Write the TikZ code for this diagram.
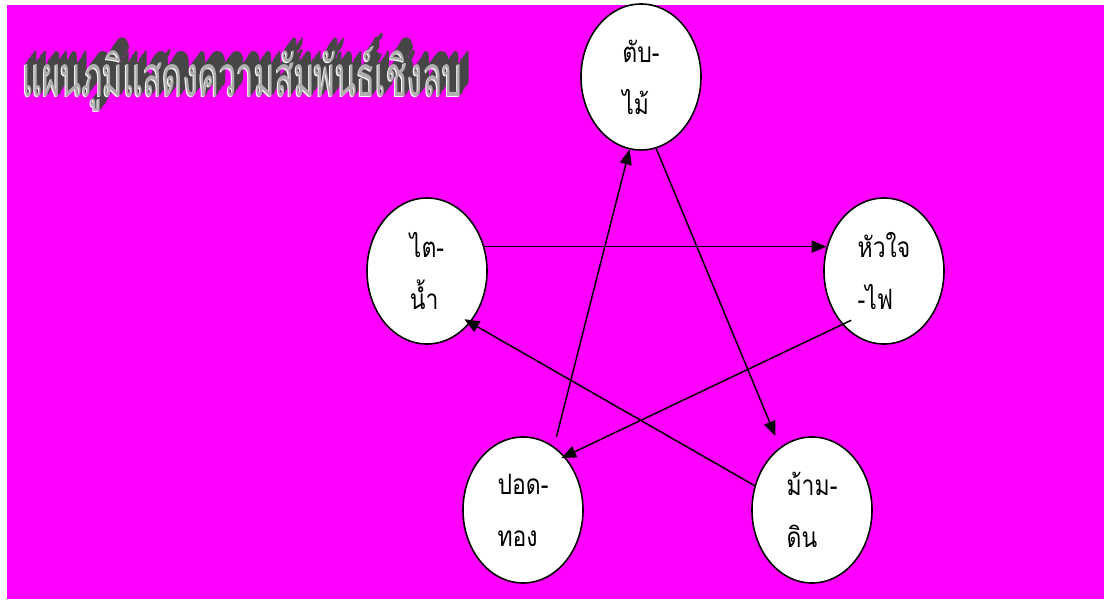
\documentclass[tikz,border=0pt]{standalone}
\usepackage{fontspec}
\newfontfamily\thaifont[Script=Thai, FakeStretch=0.82]{Loma}
\usetikzlibrary{shapes.geometric,arrows.meta}
\definecolor{mag}{RGB}{255,0,255}
\definecolor{extr}{RGB}{70,70,70}
\definecolor{face}{RGB}{175,175,175}
\newcommand\titletext{แผนภูมิแสดงความสัมพันธ์เชิงลบ}
\newcommand\titlebox[1]{\resizebox{440pt}{50pt}{\thaifont\color{#1}\titletext}}
\begin{document}
\begin{tikzpicture}[x=1pt,y=-1pt,
  organ/.style={ellipse, draw, line width=1.6pt, fill=white,
    minimum width=120pt, minimum height=146pt, inner sep=0pt, align=left,
    font=\thaifont\fontsize{28}{52}\selectfont},
  link/.style={line width=1.5pt, -{Triangle[length=15pt,width=12pt]}},
  ttl/.style={anchor=base west, inner sep=0pt}]
\useasboundingbox (0,0) rectangle (1104,601);
\fill[white] (0,0) rectangle (1104,601);
\fill[mag] (7,5) rectangle (1104,599);
% title (3D word art)
\foreach \k in {10,9,...,1}
  \node[ttl] (t\k) at (22+\k*0.9,97-\k*1.3) {\titlebox{extr}};
\node[ttl] (tw) at (21,98) {\titlebox{white}};
\node[ttl] (title) at (22,97) {\titlebox{face}};
% organs
\node[organ] (tab) at (641,77) {ตับ-\\ไม้};
\node[organ] (tai) at (427,271) {ไต-\\น้ำ};
\node[organ] (hua) at (884,271) {หัวใจ\\-ไฟ};
\node[organ] (pod) at (523,510) {ปอด-\\ทอง};
\node[organ] (mam) at (812,510) {ม้าม-\\ดิน};
% connectors
\draw[link] (tai.23) -- (hua.157);
\draw[link, shorten >=12pt] (tab.-78) -- (mam.117);
\draw[link, shorten <=-10pt, shorten >=-4pt] (hua.-128) -- (pod.52);
\draw[link, shorten <=10pt] (pod.64) -- (tab.-99);
\draw[link, shorten >=-7pt] (mam.157) -- (tai.-50);
\end{tikzpicture}
\end{document}
